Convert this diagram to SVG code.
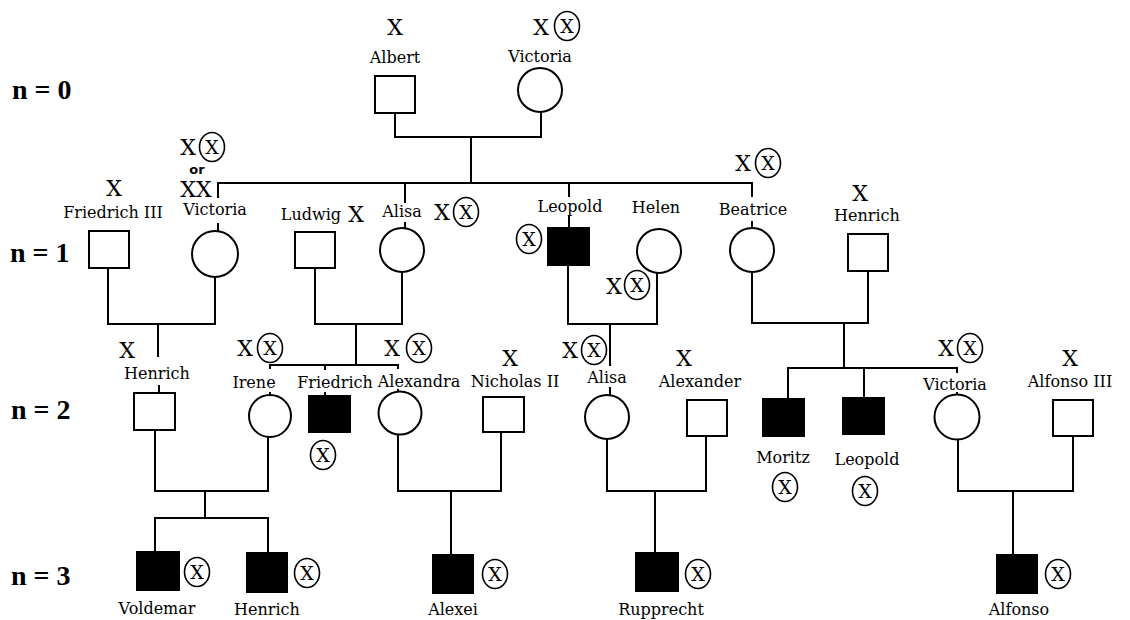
<svg xmlns="http://www.w3.org/2000/svg" width="1130" height="620" viewBox="0 0 1130 620">
<style>
.ln{fill:none;stroke:#000;stroke-width:2}
.sh{fill:#fff;stroke:#000;stroke-width:2}
.af{fill:#000;stroke:#000;stroke-width:2}
.nm{font-family:"DejaVu Serif","Liberation Serif",serif;font-size:16px;text-anchor:middle;fill:#000}
.xm{font-family:"DejaVu Serif","Liberation Serif",serif;font-size:22px;text-anchor:middle;fill:#000}
.xs{font-family:"DejaVu Serif","Liberation Serif",serif;font-size:19px;text-anchor:middle;fill:#000}
.ce{fill:none;stroke:#000;stroke-width:1.6}
.gen{font-family:"Liberation Serif",serif;font-weight:bold;font-size:28px;fill:#000}
.or{font-family:"DejaVu Sans","Liberation Sans",sans-serif;font-weight:bold;font-size:13px;text-anchor:middle;fill:#000}
</style>
<rect width="1130" height="620" fill="#fff"/>

<g id="generation-labels">
<text class="gen" x="12" y="99">n = 0</text>
<text class="gen" x="10" y="262">n = 1</text>
<text class="gen" x="11" y="419">n = 2</text>
<text class="gen" x="11" y="585">n = 3</text>
</g>

<g id="connectors">
<path class="ln" d="M395 113V137H541V112"/>
<path class="ln" d="M471 137V183"/>
<path class="ln" d="M218 198V183H752V197"/>
<path class="ln" d="M405 183V203"/>
<path class="ln" d="M569 183V197"/>
<path class="ln" d="M218 223V231"/>
<path class="ln" d="M405 222V228"/>
<path class="ln" d="M569 215V228"/>
<path class="ln" d="M752 221V228"/>
<path class="ln" d="M108 268V324H215V277"/>
<path class="ln" d="M158 324V357"/>
<path class="ln" d="M159 385V393"/>
<path class="ln" d="M315 268V324H402V272"/>
<path class="ln" d="M356 324V365"/>
<path class="ln" d="M270 369V365H398V369"/>
<path class="ln" d="M325 365V370"/>
<path class="ln" d="M270 392V395"/>
<path class="ln" d="M325 392V396"/>
<path class="ln" d="M398 389V392"/>
<path class="ln" d="M568 265V324H657V273"/>
<path class="ln" d="M610 324V366"/>
<path class="ln" d="M610 387V395"/>
<path class="ln" d="M752 272V323H868V271"/>
<path class="ln" d="M844 323V368"/>
<path class="ln" d="M788 399V368H957V373"/>
<path class="ln" d="M864 368V398"/>
<path class="ln" d="M957 392V395"/>
<path class="ln" d="M155 430V491H268V436"/>
<path class="ln" d="M205 491V518"/>
<path class="ln" d="M155 552V518H268V553"/>
<path class="ln" d="M398 435V491H501V432"/>
<path class="ln" d="M451 491V555"/>
<path class="ln" d="M607 439V491H706V436"/>
<path class="ln" d="M655 491V553"/>
<path class="ln" d="M958 440V491H1073V436"/>
<path class="ln" d="M1013 491V555"/>
</g>

<g id="albert">
<text class="xm" x="395" y="35">X</text>
<text class="nm" x="395" y="63">Albert</text>
<rect class="sh" x="375" y="76" width="40" height="37"/>
</g>

<g id="victoria-0">
<text class="xm" x="541" y="35">X</text>
<ellipse class="ce" cx="567" cy="26" rx="12.5" ry="14.5"/>
<text class="xs" x="567" y="33">X</text>
<text class="nm" x="540" y="62">Victoria</text>
<circle class="sh" cx="540" cy="90" r="22"/>
</g>

<g id="friedrich-iii">
<text class="xm" x="114" y="196">X</text>
<text class="nm" x="113" y="218">Friedrich III</text>
<rect class="sh" x="89" y="231" width="40" height="37"/>
</g>

<g id="victoria-1">
<text class="xm" x="188" y="155">X</text>
<ellipse class="ce" cx="212" cy="147" rx="12.5" ry="14.5"/>
<text class="xs" x="212" y="154">X</text>
<text class="or" x="197" y="174">or</text>
<text class="xm" x="196" y="197">XX</text>
<text class="nm" x="215" y="215">Victoria</text>
<circle class="sh" cx="215" cy="254" r="23"/>
</g>

<g id="ludwig">
<text class="nm" x="341" y="220" style="text-anchor:end">Ludwig</text>
<text class="xm" x="356" y="222">X</text>
<rect class="sh" x="295" y="232" width="40" height="36"/>
</g>

<g id="alisa-1">
<text class="nm" x="402" y="217">Alisa</text>
<text class="xm" x="442" y="220">X</text>
<ellipse class="ce" cx="466" cy="212" rx="12.5" ry="14.5"/>
<text class="xs" x="466" y="219">X</text>
<circle class="sh" cx="402" cy="250" r="22"/>
</g>

<g id="leopold-1">
<text class="nm" x="570" y="212">Leopold</text>
<ellipse class="ce" cx="529" cy="239" rx="12.5" ry="14.5"/>
<text class="xs" x="529" y="246">X</text>
<rect class="af" x="548" y="228" width="41" height="37"/>
</g>

<g id="helen">
<text class="nm" x="656" y="213">Helen</text>
<circle class="sh" cx="659" cy="251" r="22"/>
<text class="xm" x="614" y="294">X</text>
<ellipse class="ce" cx="637" cy="285" rx="12.5" ry="14.5"/>
<text class="xs" x="637" y="292">X</text>
</g>

<g id="beatrice">
<text class="xm" x="743" y="171">X</text>
<ellipse class="ce" cx="768" cy="163" rx="12.5" ry="14.5"/>
<text class="xs" x="768" y="170">X</text>
<text class="nm" x="753" y="215">Beatrice</text>
<circle class="sh" cx="752" cy="250" r="22"/>
</g>

<g id="henrich-1">
<text class="xm" x="860" y="201">X</text>
<text class="nm" x="867" y="221">Henrich</text>
<rect class="sh" x="848" y="234" width="40" height="37"/>
</g>

<g id="henrich-2">
<text class="xm" x="127" y="358">X</text>
<text class="nm" x="157" y="379">Henrich</text>
<rect class="sh" x="134" y="393" width="41" height="37"/>
</g>

<g id="irene">
<text class="xm" x="245" y="356">X</text>
<ellipse class="ce" cx="270" cy="348" rx="12.5" ry="14.5"/>
<text class="xs" x="270" y="355">X</text>
<text class="nm" x="254" y="388">Irene</text>
<circle class="sh" cx="270" cy="416" r="21"/>
</g>

<g id="friedrich">
<text class="nm" x="335" y="388">Friedrich</text>
<rect class="af" x="309" y="396" width="41" height="36"/>
<ellipse class="ce" cx="323" cy="455" rx="12.5" ry="14.5"/>
<text class="xs" x="323" y="462">X</text>
</g>

<g id="alexandra">
<text class="xm" x="392" y="356">X</text>
<ellipse class="ce" cx="419" cy="348" rx="12.5" ry="14.5"/>
<text class="xs" x="419" y="355">X</text>
<text class="nm" x="419" y="387">Alexandra</text>
<circle class="sh" cx="400" cy="413" r="21.5"/>
</g>

<g id="nicholas-ii">
<text class="xm" x="510" y="366">X</text>
<text class="nm" x="515" y="387">Nicholas II</text>
<rect class="sh" x="483" y="397" width="41" height="35"/>
</g>

<g id="alisa-2">
<text class="xm" x="570" y="358">X</text>
<ellipse class="ce" cx="594" cy="350" rx="12.5" ry="14.5"/>
<text class="xs" x="594" y="357">X</text>
<text class="nm" x="607" y="383">Alisa</text>
<circle class="sh" cx="607" cy="417" r="22"/>
</g>

<g id="alexander">
<text class="xm" x="684" y="366">X</text>
<text class="nm" x="700" y="387">Alexander</text>
<rect class="sh" x="687" y="400" width="40" height="36"/>
</g>

<g id="moritz">
<rect class="af" x="763" y="399" width="41" height="37"/>
<text class="nm" x="783" y="463">Moritz</text>
<ellipse class="ce" cx="785" cy="487" rx="12.5" ry="14.5"/>
<text class="xs" x="785" y="494">X</text>
</g>

<g id="leopold-2">
<rect class="af" x="843" y="398" width="41" height="36"/>
<text class="nm" x="867" y="465">Leopold</text>
<ellipse class="ce" cx="865" cy="491" rx="12.5" ry="14.5"/>
<text class="xs" x="865" y="498">X</text>
</g>

<g id="victoria-2">
<text class="xm" x="946" y="356">X</text>
<ellipse class="ce" cx="970" cy="348" rx="12.5" ry="14.5"/>
<text class="xs" x="970" y="355">X</text>
<text class="nm" x="955" y="390">Victoria</text>
<circle class="sh" cx="957" cy="417" r="22.5"/>
</g>

<g id="alfonso-iii">
<text class="xm" x="1070" y="366">X</text>
<text class="nm" x="1070" y="387">Alfonso III</text>
<rect class="sh" x="1053" y="400" width="40" height="36"/>
</g>

<g id="voldemar">
<rect class="af" x="137" y="552" width="42" height="38"/>
<ellipse class="ce" cx="197" cy="572" rx="12.5" ry="14.5"/>
<text class="xs" x="197" y="579">X</text>
<text class="nm" x="157" y="614">Voldemar</text>
</g>

<g id="henrich-3">
<rect class="af" x="247" y="553" width="40" height="39"/>
<ellipse class="ce" cx="307" cy="573" rx="12.5" ry="14.5"/>
<text class="xs" x="307" y="580">X</text>
<text class="nm" x="267" y="615">Henrich</text>
</g>

<g id="alexei">
<rect class="af" x="433" y="555" width="40" height="38"/>
<ellipse class="ce" cx="495" cy="574" rx="12.5" ry="14.5"/>
<text class="xs" x="495" y="581">X</text>
<text class="nm" x="453" y="615">Alexei</text>
</g>

<g id="rupprecht">
<rect class="af" x="636" y="553" width="42" height="38"/>
<ellipse class="ce" cx="698" cy="574" rx="12.5" ry="14.5"/>
<text class="xs" x="698" y="581">X</text>
<text class="nm" x="661" y="615">Rupprecht</text>
</g>

<g id="alfonso">
<rect class="af" x="997" y="555" width="40" height="38"/>
<ellipse class="ce" cx="1058" cy="574" rx="12.5" ry="14.5"/>
<text class="xs" x="1058" y="581">X</text>
<text class="nm" x="1019" y="615">Alfonso</text>
</g>
</svg>
